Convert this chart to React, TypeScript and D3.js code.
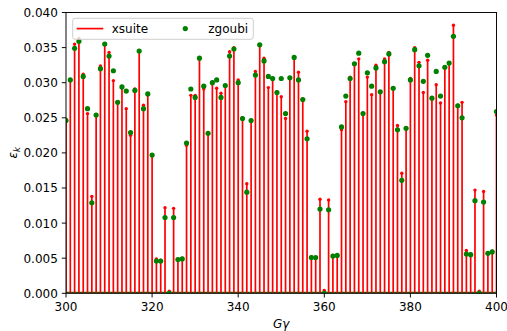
import React from "react";
import * as d3 from "d3";

// Gγ integer positions 300..400
const gammaValues: number[] = d3.range(300, 401);

// xsuite resonance strengths (×1e-3)
const xsuiteValues: number[] = [
  24.8, 30.4, 35.5, 36.3, 31.2, 25.6, 13.8, 25.4, 32.4, 35.5,
  34.3, 30.3, 27.2, 29.4, 26.3, 22.5, 29.1, 34.5, 26.8, 28.4,
  19.7, 4.9, 4.7, 12.2, 0.3, 12.1, 4.9, 5.0, 21.1, 28.2,
  28.2, 33.5, 29.1, 22.8, 30.1, 29.2, 28.5, 29.6, 34.4, 35.0,
  30.4, 25.0, 15.6, 24.6, 31.6, 35.4, 33.5, 29.3, 30.6, 28.7,
  28.0, 24.9, 30.7, 33.6, 31.5, 27.7, 23.1, 5.2, 5.0, 13.4,
  0.4, 13.3, 5.4, 5.4, 23.3, 27.3, 30.8, 32.7, 33.4, 25.6,
  30.8, 28.3, 32.5, 28.7, 33.4, 34.3, 29.3, 23.9, 17.1, 23.5,
  30.6, 35.0, 32.9, 28.6, 33.2, 27.8, 29.7, 27.1, 32.2, 32.8,
  38.2, 26.8, 27.2, 6.1, 5.6, 14.7, 0.3, 14.5, 5.8, 6.0,
  25.4,
];

// zgoubi resonance strengths (×1e-3)
const zgoubiValues: number[] = [
  24.6, 30.4, 34.9, 35.9, 30.9, 26.3, 12.9, 25.4, 32.0, 35.5,
  33.8, 31.7, 27.2, 29.4, 28.8, 22.9, 28.9, 34.5, 26.3, 28.4,
  19.7, 4.6, 4.6, 10.8, 0.0, 10.8, 4.8, 4.9, 21.4, 29.1,
  27.9, 33.5, 29.5, 22.8, 30.0, 30.4, 27.9, 29.6, 33.8, 34.8,
  30.0, 24.9, 14.4, 24.6, 31.1, 35.4, 33.1, 30.9, 30.6, 28.6,
  30.6, 25.6, 30.7, 33.6, 30.4, 27.6, 22.0, 5.1, 5.1, 12.0,
  0.0, 11.9, 5.3, 5.4, 23.7, 28.1, 30.6, 32.7, 34.2, 25.6,
  31.4, 29.5, 32.1, 28.7, 33.0, 34.1, 29.2, 23.3, 16.1, 23.5,
  30.4, 34.7, 32.4, 30.2, 33.9, 27.8, 31.6, 28.1, 32.2, 32.8,
  36.6, 26.7, 25.0, 5.6, 5.5, 13.2, 0.0, 13.0, 5.7, 5.9,
  25.9,
];

const xTicks: number[] = [300, 320, 340, 360, 380, 400];
const yTicks: number[] = [0, 0.005, 0.01, 0.015, 0.02, 0.025, 0.03, 0.035, 0.04];
const seriesNames: string[] = ["xsuite", "zgoubi"];

const W = 507;
const H = 331;
const M = { left: 66, right: 496.5, top: 12.5, bottom: 293.3 };
const FONT = "DejaVu Sans, sans-serif";

export default function App() {
  const x = d3.scaleLinear().domain([300, 400]).range([M.left, M.right]);
  const y = d3.scaleLinear().domain([0, 0.04]).range([M.bottom, M.top]);
  const red = "#ff0000";
  const green = "#008000";
  const tick = 4.2;

  return (
    <svg
      width={W}
      height={H}
      style={{ position: "absolute", left: 0, top: 0, background: "#fff" }}
      fontFamily={FONT}
    >
      <defs>
        <clipPath id="plotclip">
          <rect x={M.left} y={M.top - 4} width={M.right - M.left} height={M.bottom - M.top + 4} />
        </clipPath>
      </defs>
      <rect x={0} y={0} width={W} height={H} fill="#fff" />
      <g clipPath="url(#plotclip)">
        {/* zgoubi dense zero points / baseline */}
        <line
          x1={x(300)}
          x2={x(400)}
          y1={y(0) - 0.3}
          y2={y(0) - 0.3}
          stroke="#0a6a0a"
          strokeWidth={2.6}
        />
        {/* xsuite stems */}
        {gammaValues.map((g, i) => (
          <line
            key={"s" + g}
            x1={x(g)}
            x2={x(g)}
            y1={y(0)}
            y2={y(xsuiteValues[i] * 1e-3)}
            stroke={red}
            strokeWidth={1.7}
          />
        ))}
        {gammaValues.map((g, i) => (
          <circle
            key={"m" + g}
            cx={x(g)}
            cy={y(xsuiteValues[i] * 1e-3)}
            r={1.7}
            fill={red}
          />
        ))}
        {/* zgoubi points */}
        {gammaValues.map((g, i) => (
          <circle
            key={"z" + g}
            cx={x(g)}
            cy={y(zgoubiValues[i] * 1e-3)}
            r={2.6}
            fill={green}
          />
        ))}
      </g>

      {/* spines */}
      <rect
        x={M.left}
        y={M.top}
        width={M.right - M.left}
        height={M.bottom - M.top}
        fill="none"
        stroke="#000"
        strokeWidth={0.96}
      />

      {/* x ticks */}
      {xTicks.map((t) => (
        <g key={"xt" + t}>
          <line x1={x(t)} x2={x(t)} y1={M.bottom} y2={M.bottom + tick} stroke="#000" strokeWidth={0.96} />
          <text x={x(t)} y={M.bottom + tick + 4.2 + 9.2} textAnchor="middle" fontSize={12} fill="#000">
            {t}
          </text>
        </g>
      ))}
      {/* y ticks */}
      {yTicks.map((t) => (
        <g key={"yt" + t}>
          <line x1={M.left - tick} x2={M.left} y1={y(t)} y2={y(t)} stroke="#000" strokeWidth={0.96} />
          <text
            x={M.left - tick - 4}
            y={y(t) + 4.4}
            textAnchor="end"
            fontSize={12}
            fill="#000"
          >
            {d3.format(".3f")(t)}
          </text>
        </g>
      ))}

      {/* axis labels */}
      <text x={(M.left + M.right) / 2} y={327.5} textAnchor="middle" fontSize={12} fontStyle="italic" fill="#000">
        Gγ
      </text>
      <text transform={`translate(16.5, ${(M.top + M.bottom) / 2}) rotate(-90)`} textAnchor="middle" fontSize={12} fill="#000">
        <tspan fontStyle="italic">ε</tspan>
        <tspan fontStyle="italic" fontSize={8.5} dy={3}>k</tspan>
      </text>

      {/* legend */}
      <g>
        <rect x={72.7} y={18.3} width={180.6} height={21} rx={2.5} fill="#fff" fillOpacity={0.8} stroke="#cccccc" strokeWidth={0.96} />
        <line x1={76.7} x2={103.3} y1={28.6} y2={28.6} stroke={red} strokeWidth={1.7} />
        <text x={111.7} y={32.9} fontSize={12} fill="#000">{seriesNames[0]}</text>
        <circle cx={185.3} cy={28.6} r={2.6} fill={green} />
        <text x={208.3} y={32.9} fontSize={12} fill="#000">{seriesNames[1]}</text>
      </g>
    </svg>
  );
}
